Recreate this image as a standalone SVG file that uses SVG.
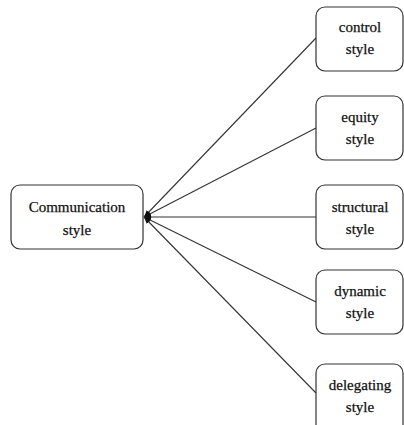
<svg xmlns="http://www.w3.org/2000/svg" width="404" height="425" viewBox="0 0 404 425">
<style>
.box{fill:#fff;stroke:#333;stroke-width:1.2}
.t{font-family:'Liberation Serif','Times New Roman','DejaVu Serif',serif;font-size:15px;fill:#111;text-anchor:middle;stroke:#111;stroke-width:0.25}
.ln{stroke:#333;stroke-width:1.1;fill:none}
</style>
<defs>
<marker id="ah" viewBox="0 0 10 10" refX="10" refY="5" markerWidth="7" markerHeight="7" orient="auto-start-reverse" markerUnits="userSpaceOnUse">
<path d="M0,1 L10,5 L0,9 Z" fill="#111"/>
</marker>
</defs>
<rect width="404" height="425" fill="#fff"/>
<g id="connectors">
<line class="ln" x1="316" y1="38" x2="144" y2="217" marker-end="url(#ah)"/>
<line class="ln" x1="316" y1="128" x2="144" y2="217" marker-end="url(#ah)"/>
<line class="ln" x1="316" y1="217" x2="144" y2="217" marker-end="url(#ah)"/>
<line class="ln" x1="316" y1="302" x2="144" y2="217" marker-end="url(#ah)"/>
<line class="ln" x1="316" y1="393" x2="144" y2="217" marker-end="url(#ah)"/>
</g>
<g id="communication">
<rect class="box" x="11" y="185" width="132" height="64" rx="9"/>
<text class="t" x="77" y="212">Communication</text>
<text class="t" x="77" y="235">style</text>
</g>
<g id="control">
<rect class="box" x="316" y="7" width="87" height="64" rx="9"/>
<text class="t" x="360" y="32">control</text>
<text class="t" x="360" y="54">style</text>
</g>
<g id="equity">
<rect class="box" x="316" y="96" width="87" height="64" rx="9"/>
<text class="t" x="360" y="122">equity</text>
<text class="t" x="360" y="144">style</text>
</g>
<g id="structural">
<rect class="box" x="316" y="185" width="87" height="64" rx="9"/>
<text class="t" x="360" y="212">structural</text>
<text class="t" x="360" y="234">style</text>
</g>
<g id="dynamic">
<rect class="box" x="316" y="270" width="87" height="64" rx="9"/>
<text class="t" x="360" y="296">dynamic</text>
<text class="t" x="360" y="318">style</text>
</g>
<g id="delegating">
<rect class="box" x="316" y="364" width="87" height="70" rx="9"/>
<text class="t" x="360" y="390">delegating</text>
<text class="t" x="360" y="412">style</text>
</g>
</svg>
